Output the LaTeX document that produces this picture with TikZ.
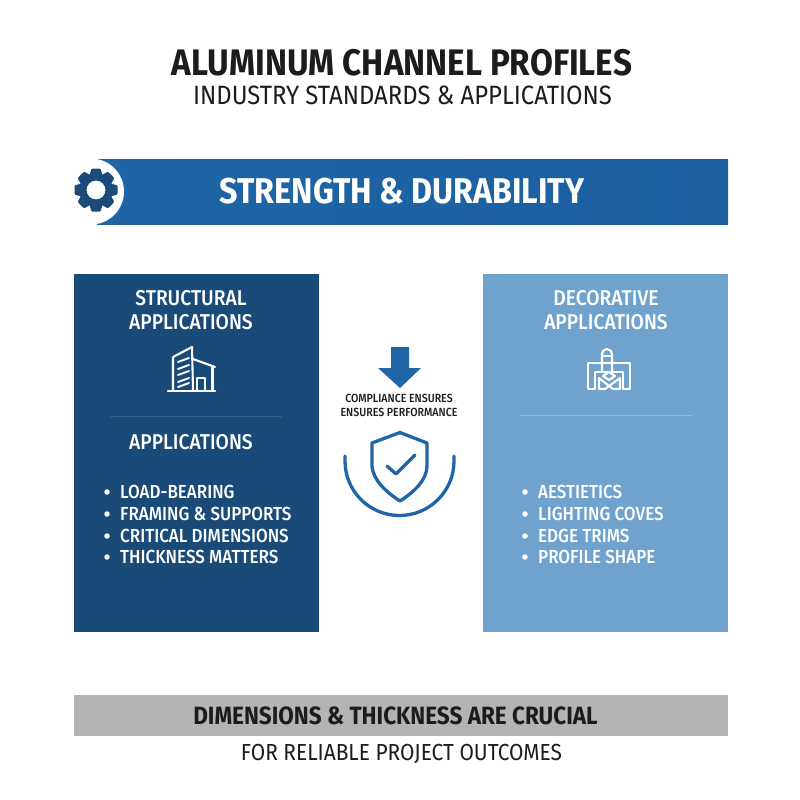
\documentclass[tikz,border=0pt]{standalone}
\usepackage{fontspec}
\setmainfont[FakeStretch=0.9]{Fira Sans}
\newfontfamily\medfont[FakeStretch=0.9]{Fira Sans Medium}
\definecolor{ink}{HTML}{1C1C1E}
\definecolor{banner}{HTML}{1F65A6}
\definecolor{bannerb}{HTML}{1B5F9F}
\definecolor{navy}{HTML}{194A78}
\definecolor{sky}{HTML}{6FA3CD}
\definecolor{greybar}{HTML}{B4B4B4}
\definecolor{iconblue}{HTML}{1F65A8}
\definecolor{geardark}{HTML}{1A4B7A}
\tikzset{
  lbl/.style={inner sep=0pt,anchor=center,align=center},
  panelhead/.style={lbl,text=white,font=\fontsize{21.4}{23.5}\selectfont\medfont},
  item/.style={inner sep=0pt,anchor=west,text=white,font=\fontsize{18.9}{21}\selectfont\medfont},
  dot/.style={circle,fill=white,inner sep=0pt,minimum size=5.5pt},
  icon/.style={draw=white,line width=2.1pt,line join=round,line cap=round},
  blueicon/.style={draw=iconblue,line width=3.3pt,line cap=round,line join=round},
}
\begin{document}
\begin{tikzpicture}[x=1pt,y=-1pt]
\useasboundingbox (0,0) rectangle (800,800);
\fill[white] (0,0) rectangle (800,800);
% title
\node[lbl,text=ink,font=\fontsize{36.9}{40}\selectfont\bfseries] (title) at (402,63) {ALUMINUM CHANNEL PROFILES};
\node[lbl,text=ink,font=\fontsize{26.5}{30}\selectfont] (sub) at (402.5,95) {INDUSTRY STANDARDS \& APPLICATIONS};
% banner
\shade[left color=banner,right color=bannerb] (97,159) rectangle (728,224);
\fill[white] (91,191.5) circle[radius=33];
\node[lbl,text=white,font=\fontsize{35.8}{40}\selectfont\bfseries] (bantext) at (402,191) {STRENGTH \& DURABILITY};
% gear
\begin{scope}[shift={(96,190)}]
  \foreach \a in {0,45,...,315}{
    \fill[geardark,rotate=\a,rounded corners=1pt] (-4.5,-21.5) -- (4.5,-21.5) -- (7,-13) -- (-7,-13) -- cycle;
  }
  \fill[geardark,even odd rule] (0,0) circle[radius=16.5] (0,0) circle[radius=9.5];
\end{scope}
% panels
\fill[navy] (74,274) rectangle (319,632);
\fill[sky] (483,274) rectangle (728,632);
% left panel
\node[panelhead] (lh) at (191,310) {STRUCTURAL\\APPLICATIONS};
\begin{scope}[icon]
  \draw (173,390) -- (173,357) -- (192,347) -- (193,390);
  \draw (193,359) -- (215,367);
  \draw (212.5,366) -- (212.5,390);
  \draw (197,390) -- (197,378) -- (205,378) -- (205,390);
  \draw (168,391) -- (215,391);
  \foreach \y in {362,369,375,382,387}{\draw[line width=1.9pt] (178,\y) -- (189,\y-4);}
\end{scope}
\draw[draw=white,opacity=.12,line width=.8pt] (110,416) -- (282,416);
\node[panelhead] (la) at (191,442) {APPLICATIONS};
\foreach \y/\t/\n in {492/LOAD-BEARING/a,514/FRAMING \& SUPPORTS/b,536/CRITICAL DIMENSIONS/c,557/THICKNESS MATTERS/d}{
  \node[dot] (ld\n) at (107,\y) {};
  \node[item] (li\n) at (120,\y) {\t};
}
% right panel
\node[panelhead] (rh) at (606,310) {DECORATIVE\\APPLICATIONS};
\begin{scope}[icon]
  \draw (602,372) -- (602,354) arc[start angle=180,end angle=360,radius=5] -- (612,372);
  \draw (602,356) -- (612,356);
  \draw (588,389) -- (588,363) -- (630,363) -- (630,389) -- (623,389) -- (623,372) -- (595,372) -- (595,389) -- cycle;
  \draw (599,389) -- (599,378) -- (609,386) -- (620,378) -- (620,389) -- (613,389) -- (609,386) -- (605,389) -- cycle;
  \draw (603,376) -- (609,372) -- (615,376) -- (609,380) -- cycle;
\end{scope}
\draw[draw=white,opacity=.25,line width=.8pt] (520,415) -- (692,415);
\foreach \y/\t/\n in {492/AESTIETICS/a,514/LIGHTING COVES/b,536/EDGE TRIMS/c,557/PROFILE SHAPE/d}{
  \node[dot] (rd\n) at (525,\y) {};
  \node[item] (ri\n) at (538,\y) {\t};
}
% centre
\fill[iconblue] (391,347) -- (409,347) -- (409,368) -- (421,368) -- (400,388) -- (378,368) -- (391,368) -- cycle;
\node[lbl,text=ink,font=\fontsize{11.8}{13.6}\selectfont\medfont] (ctext) at (399,405.5) {COMPLIANCE ENSURES\\ENSURES PERFORMANCE};
\draw[blueicon] (400,432.5) -- (427,443) -- (427,466) .. controls (427,480) and (414,492) .. (400,501) .. controls (386,492) and (373,480) .. (372,466) -- (372,443) -- cycle;
\draw[blueicon] (387,466) -- (396,474) -- (415,455);
\draw[blueicon] (345,456) -- (345,461) arc[start angle=180,end angle=0,radius=54.5] -- (454,456);
% footer
\fill[greybar] (74,695) rectangle (728,736);
\node[lbl,text=ink,font=\fontsize{25}{28}\selectfont\bfseries] (fa) at (395.5,716) {DIMENSIONS \& THICKNESS ARE CRUCIAL};
\node[lbl,text=ink,font=\fontsize{23.2}{26}\selectfont] (fb) at (401.5,754) {FOR RELIABLE PROJECT OUTCOMES};
\end{tikzpicture}
\end{document}
